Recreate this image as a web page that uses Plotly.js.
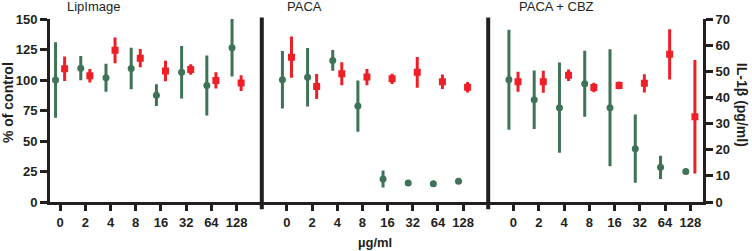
<!DOCTYPE html>
<html><head><meta charset="utf-8">
<script src="https://cdn.plot.ly/plotly-3.0.1.min.js"></script>
<style>html,body{margin:0;padding:0;background:#fff}</style>
</head><body><div id="chart" style="width:752px;height:251px"></div>
<script>
const doses = ['0','2','4','8','16','32','64','128'];
const panels = ['LipImage','PACA','PACA + CBZ'];
const viabLip = [100,109.7,101.8,109.5,87.6,106.4,95.5,126.4];
const viabLipErr = [31,10,11.5,17,9,21.5,24.5,23.5];
const il1bLip = [51.0,48.3,58.0,55.0,50.1,50.7,46.5,45.5];
const il1bLipErr = [4.7,2.6,4.9,3.5,3.9,2.0,3.1,3.0];
const viabPaca = [100.2,102.3,116,78.6,18.8,15.6,15,17];
const viabPacaErr = [23.5,24,8.5,21,7,0,0,0];
const il1bPaca = [55.4,44.2,49.1,47.8,47.1,49.6,46.0,43.9];
const il1bPacaErr = [7.9,4.8,4.4,3.1,2.0,5.9,2.8,2.0];
const viabCbz = [100.2,83.8,77.3,96.9,77.3,43.7,28.4,25.1];
const viabCbzErr = [41,24,37,27,48,28,9.5,0];
const il1bCbz = [46.0,46.0,48.5,43.8,44.6,45.4,56.5,32.6];
const il1bCbzErr = [3.8,4.2,2.2,1.8,1.5,3.5,9.6,21.7];

const GREEN = '#3e7357', RED = '#ee1f27', INK = '#231f20';
const FONT = 'Liberation Sans, Arial, sans-serif';
const idx = doses.map((d,i)=>i);
const off = 0.18;
const viab = [viabLip, viabPaca, viabCbz];
const viabErr = [viabLipErr, viabPacaErr, viabCbzErr];
const il = [il1bLip, il1bPaca, il1bCbz];
const ilErr = [il1bLipErr, il1bPacaErr, il1bCbzErr];

const traces = [];
for (let p = 0; p < 3; p++) {
  const xa = p === 0 ? 'x' : 'x' + (p+1);
  traces.push({
    type:'scatter', mode:'markers', xaxis:xa, yaxis:'y',
    x: idx.map(i=>i-off), y: viab[p],
    error_y:{type:'data', array: viabErr[p], visible:true, color:GREEN, thickness:3, width:0},
    marker:{symbol:'circle', size:7, color:GREEN}, showlegend:false, hoverinfo:'skip'
  });
  traces.push({
    type:'scatter', mode:'markers', xaxis:xa, yaxis:'y2',
    x: idx.map(i=>i+off), y: il[p],
    error_y:{type:'data', array: ilErr[p], visible:true, color:RED, thickness:3, width:0},
    marker:{symbol:'square', size:7, color:RED}, showlegend:false, hoverinfo:'skip'
  });
}

const plotW = 652.7, plotH = 182.7, L = 50, T = 19;
const px = v => (v - L)/plotW;
const py = v => (T + plotH - v)/plotH;
const d1 = px(261.7), d2 = px(488);

function xaxisDef(domain, range, anchor) {
  return {
    domain: domain, range: range, anchor: anchor,
    tickmode:'array', tickvals: idx, ticktext: doses,
    showline:true, linecolor:INK, linewidth:3, ticks:'outside', ticklen:6, tickwidth:3, tickcolor:INK,
    showgrid:false, zeroline:false, fixedrange:true,
    tickfont:{family:FONT, size:13, weight:'bold', color:INK}
  };
}

const tickFontY = {family:FONT, size:13, weight:'bold', color:INK};
const layout = {
  width:752, height:251,
  margin:{l:L, r:752-L-plotW, t:T, b:251-T-plotH, pad:0},
  paper_bgcolor:'#fff', plot_bgcolor:'#fff',
  showlegend:false,
  xaxis: xaxisDef([0, d1], [-0.4, 8.0], 'y'),
  xaxis2: xaxisDef([d1, d2], [-1, 8], 'y'),
  xaxis3: xaxisDef([d2, 1], [-1, 7.5], 'y'),
  yaxis: {
    range:[0,150], tickvals:[0,25,50,75,100,125,150], anchor:'x',
    showline:true, linecolor:INK, linewidth:3, ticks:'outside', ticklen:7, tickwidth:3, tickcolor:INK,
    showgrid:false, zeroline:false, tickfont:tickFontY, fixedrange:true
  },
  yaxis2: {
    range:[0,70], tickvals:[0,10,20,30,40,50,60,70], overlaying:'y', side:'right', anchor:'x3',
    showline:true, linecolor:INK, linewidth:3, ticks:'outside', ticklen:7, tickwidth:3, tickcolor:INK,
    showgrid:false, zeroline:false, tickfont:tickFontY, fixedrange:true
  },
  shapes: [d1, d2].map(x => ({
    type:'line', xref:'paper', yref:'paper', x0:x, x1:x, y0:py(209), y1:py(17.5),
    line:{color:INK, width:4}
  })),
  annotations: [
    {text:panels[0], xref:'paper', yref:'paper', x:px(65), y:py(7), xanchor:'left', yanchor:'middle', showarrow:false,
     font:{family:FONT, size:13, color:INK}},
    {text:panels[1], xref:'paper', yref:'paper', x:px(285), y:py(7), xanchor:'left', yanchor:'middle', showarrow:false,
     font:{family:FONT, size:13, color:INK}},
    {text:panels[2], xref:'paper', yref:'paper', x:px(516.5), y:py(7), xanchor:'left', yanchor:'middle', showarrow:false,
     font:{family:FONT, size:13, color:INK}},
    {text:'% of control', xref:'paper', yref:'paper', x:px(8), y:py(102), xanchor:'center', yanchor:'middle', textangle:-90,
     showarrow:false, font:{family:FONT, size:14, weight:'bold', color:INK}},
    {text:'IL-1β (pg/ml)', xref:'paper', yref:'paper', x:px(742), y:py(105), xanchor:'center', yanchor:'middle', textangle:90,
     showarrow:false, font:{family:FONT, size:14, weight:'bold', color:INK}},
    {text:'µg/ml', xref:'paper', yref:'paper', x:px(375), y:py(242), xanchor:'center', yanchor:'middle',
     showarrow:false, font:{family:FONT, size:13, weight:'bold', color:INK}}
  ]
};

Plotly.newPlot('chart', traces, layout, {displayModeBar:false, staticPlot:true});
</script>
</body></html>
